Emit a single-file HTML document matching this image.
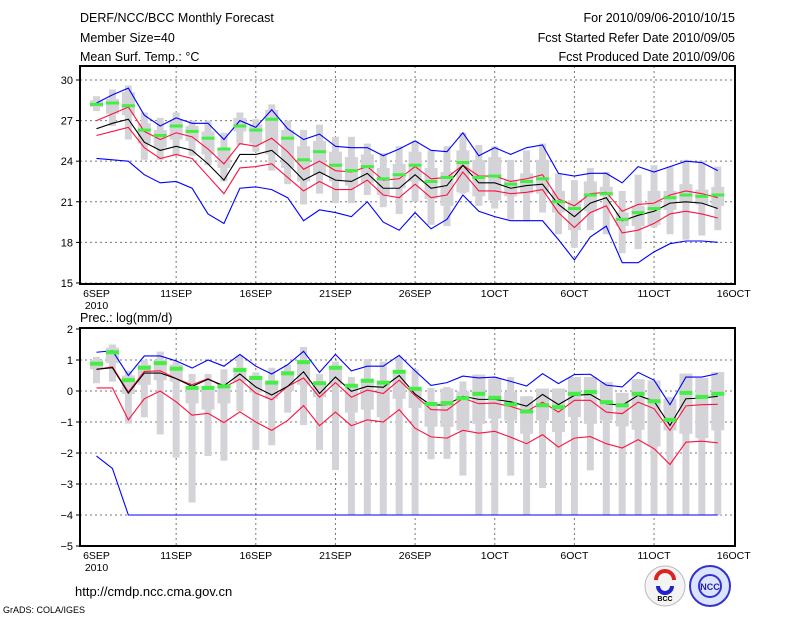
<!DOCTYPE html>
<html><head><meta charset="utf-8"><style>
html,body{margin:0;padding:0;background:#fff;width:800px;height:618px;overflow:hidden}
svg{display:block}
text{font-family:"Liberation Sans",sans-serif;fill:#000}
</style></head><body>
<svg id="chart" width="800" height="618" viewBox="0 0 800 618" xmlns="http://www.w3.org/2000/svg">
<g font-size="12.5">
<text x="80" y="22">DERF/NCC/BCC Monthly Forecast</text>
<text x="80" y="42">Member Size=40</text>
<text x="80" y="61">Mean Surf. Temp.: °C</text>
<text x="735" y="22" text-anchor="end">For 2010/09/06-2010/10/15</text>
<text x="735" y="42" text-anchor="end">Fcst Started Refer Date 2010/09/05</text>
<text x="735" y="61" text-anchor="end">Fcst Produced Date 2010/09/06</text>
</g>
<text x="80" y="322" font-size="12.5">Prec.: log(mm/d)</text>
<text x="75" y="596" font-size="13">http://cmdp.ncc.cma.gov.cn</text>
<text x="3" y="613" font-size="9">GrADS: COLA/IGES</text>
<g>
<circle cx="665" cy="586" r="20" fill="#f4f4f4" stroke="#bbb"/>
<path d="M656 580 a9 9 0 1 1 18 0" fill="none" stroke="#d22" stroke-width="4"/>
<path d="M658 586 a7 7 0 0 0 14 0" fill="none" stroke="#22c" stroke-width="4"/>
<text x="665" y="601" font-size="7" text-anchor="middle" font-weight="bold">BCC</text>
</g>
<g>
<circle cx="710" cy="586" r="20" fill="#dde4ff" stroke="#33c" stroke-width="2"/>
<circle cx="710" cy="586" r="11" fill="none" stroke="#33c" stroke-width="2"/>
<text x="710" y="590" font-size="9" text-anchor="middle" style="fill:#22a" font-weight="bold">NCC</text>
</g>
</svg>
<script>
// ---------- data: temperature panel ----------
const days = ["6SEP","11SEP","16SEP","21SEP","26SEP","1OCT","6OCT","11OCT","16OCT"];
const tempTicks = [15,18,21,24,27,30];
const precTicks = [-5,-4,-3,-2,-1,0,1,2];
const tBlueHi=[28.3,28.9,29.4,27.4,26.6,27.2,26.8,26.8,25.6,27.0,26.5,27.8,26.4,25.6,26.0,25.1,25.0,25.0,24.4,24.9,25.5,24.8,24.7,26.1,24.4,25.0,24.5,25.0,25.2,23.1,22.9,23.1,23.1,22.4,23.6,23.2,23.6,24.0,23.9,23.3];
const tRedHi=[27.0,27.5,28.0,26.2,25.6,26.1,25.8,24.9,23.8,25.3,25.1,25.7,24.7,23.4,24.0,23.3,23.2,23.6,22.6,22.7,23.6,22.7,22.8,23.7,22.9,22.9,22.5,22.7,23.0,21.2,20.7,21.6,21.7,20.3,20.8,20.9,21.5,21.8,21.6,21.3];
const tMean=[26.4,26.8,27.1,25.4,24.8,25.1,24.8,23.8,22.6,24.5,24.5,24.8,23.8,22.6,23.2,22.6,22.5,23.1,22.0,22.0,23.0,22.0,22.2,23.7,22.4,22.4,22.0,22.2,22.3,20.8,19.9,20.9,21.3,19.6,20.0,20.3,20.9,21.0,20.9,20.5];
const tRedLo=[25.9,26.2,26.5,25.0,24.2,24.5,24.2,22.9,21.6,23.5,23.6,23.8,22.8,21.8,22.5,21.9,21.9,22.6,21.5,21.3,22.3,21.3,21.5,23.2,21.8,21.8,21.6,21.7,21.9,20.2,19.1,20.2,20.7,18.7,18.9,19.4,20.1,20.3,20.1,19.8];
const tBlueLo=[24.2,24.1,24.0,23.0,22.4,22.5,22.0,20.1,19.4,22.0,22.1,21.9,21.3,19.6,20.4,20.2,19.9,21.0,19.5,18.9,20.2,19.0,19.7,21.5,20.3,19.9,19.6,19.6,19.6,18.2,16.7,18.4,19.2,16.5,16.5,17.3,17.9,18.1,18.1,18.0];
const tObs=[28.2,28.3,28.1,26.3,25.9,26.6,26.2,25.7,24.9,26.6,26.3,27.1,25.7,24.1,24.7,23.7,23.3,23.6,22.7,23.0,23.7,22.5,22.8,23.9,22.8,22.9,22.3,22.5,22.7,21.0,20.5,21.5,21.6,19.7,20.2,20.5,21.3,21.5,21.4,21.5];
const tRangeHi=[28.8,29.3,29.6,27.6,27.2,27.6,27.0,27.0,26.1,27.6,27.1,28.2,27.0,26.3,26.7,25.8,25.8,25.3,24.6,25.1,25.5,24.8,25.1,26.1,25.2,25.1,24.1,24.8,25.3,23.1,22.6,23.5,23.2,21.8,23.0,23.7,23.6,24.1,24.0,23.6];
const tRangeLo=[27.7,26.6,25.6,24.1,24.1,24.4,24.4,23.7,22.5,25.2,24.7,23.3,22.3,20.8,21.6,20.9,20.9,21.5,20.6,20.1,21.0,19.3,19.2,21.6,20.7,20.5,19.7,19.55,20.2,18.6,17.6,18.9,18.6,17.2,17.5,19.1,18.6,18.2,18.5,18.9];
const tBoxHi=[28.5,28.6,29.1,26.8,26.3,27.0,26.6,26.2,25.0,27.2,26.7,27.8,26.3,25.1,25.5,24.7,24.3,24.5,23.5,23.8,24.7,23.5,23.2,24.8,24.1,24.3,22.6,23.1,24.1,21.8,21.1,22.5,22.1,20.2,20.7,21.8,21.8,22.3,21.9,22.1];
const tBoxLo=[28.0,27.5,27.4,25.3,25.0,25.6,25.5,24.5,23.5,26.2,25.3,24.5,23.5,22.5,23.0,22.5,22.2,22.4,21.5,22.0,22.5,21.2,20.7,21.7,21.4,21.1,21.4,21.6,21.6,20.2,18.9,20.3,21.4,19.2,19.2,19.3,20.4,20.9,20.8,20.7];
// ---------- data: precipitation panel ----------
const bBlueHi=[1.25,1.3,0.5,1.13,1.13,0.97,0.74,1.0,0.8,1.18,0.8,0.55,0.85,1.28,0.6,1.18,0.65,0.8,0.8,1.15,0.65,0.18,0.27,0.48,0.42,0.45,0.31,0.16,0.56,0.24,0.53,0.54,0.19,0.13,0.6,0.35,-0.44,0.45,0.45,0.56];
const bRedHi=[0.7,0.78,-0.03,0.63,0.65,0.4,0.2,0.4,0.12,0.38,-0.07,-0.28,0.15,0.42,-0.2,0.27,-0.2,0.03,-0.08,0.35,-0.15,-0.6,-0.62,-0.23,-0.41,-0.39,-0.5,-0.66,-0.36,-0.68,-0.3,-0.3,-0.68,-0.73,-0.36,-0.57,-1.27,-0.48,-0.44,-0.43];
const bMean=[0.7,0.75,-0.07,0.58,0.58,0.4,0.15,0.38,0.17,0.55,0.13,-0.13,0.15,0.62,-0.08,0.45,-0.01,0.15,0.12,0.5,-0.1,-0.46,-0.44,-0.17,-0.27,-0.27,-0.35,-0.49,-0.11,-0.44,-0.14,-0.11,-0.41,-0.46,-0.14,-0.33,-1.11,-0.25,-0.23,-0.17];
const bRedLo=[0.1,0.1,-0.93,-0.25,0.0,-0.35,-0.78,-0.72,-1.02,-0.67,-1.0,-1.27,-0.95,-0.47,-1.12,-0.68,-1.12,-0.93,-1.0,-0.6,-1.2,-1.48,-1.52,-1.27,-1.36,-1.3,-1.49,-1.7,-1.41,-1.81,-1.52,-1.47,-1.7,-1.84,-1.57,-1.86,-2.37,-1.65,-1.62,-1.67];
const bBlueLo=[-2.1,-2.5,-4,-4,-4,-4,-4,-4,-4,-4,-4,-4,-4,-4,-4,-4,-4,-4,-4,-4,-4,-4,-4,-4,-4,-4,-4,-4,-4,-4,-4,-4,-4,-4,-4,-4,-4,-4,-4,-4];
const bObs=[0.88,1.25,0.35,0.75,0.9,0.72,0.1,0.1,0.15,0.68,0.42,0.27,0.57,0.93,0.25,0.75,0.17,0.33,0.27,0.62,0.07,-0.42,-0.39,-0.23,-0.09,-0.22,-0.43,-0.66,-0.46,-0.52,-0.09,-0.03,-0.36,-0.46,-0.09,-0.33,-0.93,-0.06,-0.19,-0.09];
const bRangeHi=[1.1,1.5,0.65,1.0,1.27,0.95,0.55,0.55,0.7,1.15,0.6,0.75,0.85,1.42,0.55,0.95,0.45,1.03,0.95,1.1,0.7,0.1,0.13,0.31,0.53,0.45,0.45,-0.17,0.08,0.08,0.45,0.45,0.29,-0.06,0.38,0.34,-0.19,0.56,0.42,0.61];
const bRangeLo=[0.25,0.3,-1.05,-0.85,-1.4,-2.15,-3.6,-2.1,-2.25,-0.65,-1.9,-1.75,-0.7,-1.1,-1.9,-2.55,-4,-4,-4,-4,-4,-2.2,-2.19,-2.73,-4,-4,-2.73,-4,-3.13,-4,-4,-2.56,-4,-4,-4,-4,-4,-4,-4,-4];
const bBoxHi=[1.0,1.4,0.5,0.85,1.0,0.85,0.15,0.15,0.2,0.75,0.5,0.3,0.65,1.0,0.3,0.8,0.2,0.4,0.3,0.65,0.1,-0.35,0.08,-0.01,0.53,0.4,-0.03,-0.17,0.08,0.08,0.45,0.45,0.29,-0.06,0.38,0.34,-0.25,0.56,0.42,0.61];
const bBoxLo=[0.7,0.9,-0.1,0.2,0.35,0.3,-0.4,-0.6,-0.4,0.3,-0.05,-0.25,0.0,0.2,-0.2,0.2,-0.7,-0.6,-0.85,-0.25,-0.55,-1.15,-1.16,-1.27,-1.06,-0.89,-0.95,-1.38,-0.95,-1.32,-0.84,-1.06,-0.95,-1.14,-1.25,-1.79,-1.27,-1.38,-1.52,-1.27];

const NS="http://www.w3.org/2000/svg";
const svg=document.getElementById('chart');
const X0=96.5, DX=15.93, FL=80, FR=735;
function xScale(d){return X0+d*DX;}
function mk(tag,attrs,parent){const e=document.createElementNS(NS,tag);for(const k in attrs)e.setAttribute(k,attrs[k]);(parent||svg).appendChild(e);return e;}

function panel(opt){
  const g=mk('g',{});
  
  
  const y=opt.y;
  // grid
  opt.ticks.forEach(t=>{
    const yy=y(t);
    if(yy>opt.top+1&&yy<opt.bot-1){const l=mk('line',{x1:FL,x2:FR,y1:yy,y2:yy,stroke:'#777','stroke-dasharray':'2,3','stroke-width':1},g);
    
    }
    const tk=mk('line',{x1:FL-4,x2:FL,y1:yy,y2:yy,stroke:'#000'},g);
    
    
    const tx=mk('text',{x:FL-7,y:yy+4,'text-anchor':'end','font-size':11},g);
    tx.textContent=(t<0?'\u2212'+(-t):t);
    
    
  });
  days.forEach((lab,i)=>{
    const xx=xScale(i*5);
    if(i>0&&i<days.length-1){const l=mk('line',{x1:xx,x2:xx,y1:opt.top,y2:opt.bot,stroke:'#777','stroke-dasharray':'2,3'},g);
    
    }
    const tx=mk('text',{x:xx,y:opt.bot+13,'text-anchor':'middle','font-size':10.5},g);
    tx.textContent=lab;
    
    
  });
  const yr=mk('text',{x:xScale(0),y:opt.bot+25,'text-anchor':'middle','font-size':10.5},g);
  yr.textContent='2010';
  
  
  // boxes
  opt.rHi.forEach((v,d)=>{
    const xx=xScale(d);
    const r=mk('rect',{x:xx-3.5,width:7,y:y(v),height:Math.max(1,y(opt.rLo[d])-y(v)),fill:'#d4d4d8'},g);
    
    
    const b=mk('rect',{x:xx-6.5,width:13,y:y(opt.bHi[d]),height:Math.max(1,y(opt.bLo[d])-y(opt.bHi[d])),fill:'#d4d4d8'},g);
    
    
  });
  // lines
  opt.lines.forEach(([arr,col,nm])=>{
    const p=mk('polyline',{points:arr.map((v,d)=>xScale(d)+','+y(v)).join(' '),fill:'none',stroke:col,'stroke-width':1.1},g);
    
    
  });
  // obs
  opt.obs.forEach((v,d)=>{
    const r=mk('rect',{x:xScale(d)-6.5,width:13,y:y(v)-opt.gh/2,height:opt.gh,fill:'#44ee44'},g);
    
    
  });
  const f=mk('rect',{x:FL,y:opt.top,width:FR-FL,height:opt.bot-opt.top,fill:'none',stroke:'#000','stroke-width':2},g);
  
  
}

panel({name:'temperature-panel',top:66,bot:284,ticks:tempTicks,y:v=>80+(30-v)*13.53,
  rHi:tRangeHi,rLo:tRangeLo,bHi:tBoxHi,bLo:tBoxLo,obs:tObs,gh:3,
  lines:[[tBlueHi,'#0000ff','temp-max-line'],[tBlueLo,'#0000ff','temp-min-line'],[tRedHi,'#ff1040','temp-upper-line'],[tRedLo,'#ff1040','temp-lower-line'],[tMean,'#000','temp-mean-line']]});
panel({name:'precip-panel',top:328,bot:546,ticks:precTicks,y:v=>329+(2-v)*31,
  rHi:bRangeHi,rLo:bRangeLo,bHi:bBoxHi,bLo:bBoxLo,obs:bObs,gh:4,
  lines:[[bBlueHi,'#0000ff','precip-max-line'],[bBlueLo,'#0000ff','precip-min-line'],[bRedHi,'#ff1040','precip-upper-line'],[bRedLo,'#ff1040','precip-lower-line'],[bMean,'#000','precip-mean-line']]});
</script>
</body></html>
